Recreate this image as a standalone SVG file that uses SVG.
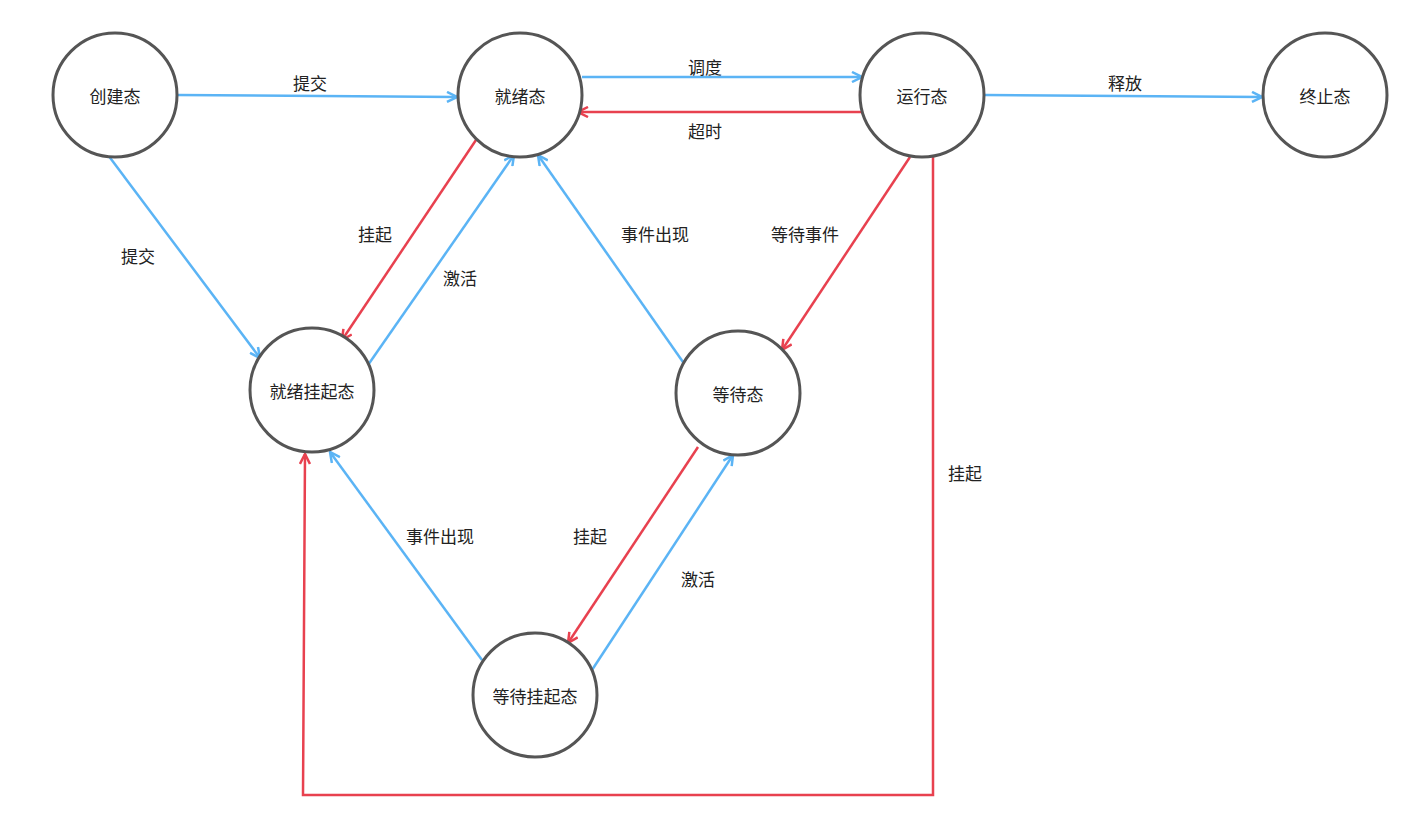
<svg xmlns="http://www.w3.org/2000/svg" width="1428" height="818" viewBox="0 0 1428 818">
<style>
.n{fill:#fff;stroke:#555;stroke-width:3}
.t{font-family:"Noto Sans CJK SC","Liberation Serif",serif;font-size:17px;fill:#222;text-anchor:middle;dominant-baseline:central}
.b{stroke:#5bb4f5;stroke-width:2.5;fill:none;marker-end:url(#ab)}
.r{stroke:#e8414f;stroke-width:2.5;fill:none;marker-end:url(#ar)}
</style>
<defs>
<marker id="ab" viewBox="0 0 12 12" refX="11" refY="6" markerWidth="12" markerHeight="12" markerUnits="userSpaceOnUse" orient="auto"><path d="M1,1 L11,6 L1,11" fill="none" stroke="#5bb4f5" stroke-width="2.5"/></marker>
<marker id="ar" viewBox="0 0 12 12" refX="11" refY="6" markerWidth="12" markerHeight="12" markerUnits="userSpaceOnUse" orient="auto"><path d="M1,1 L11,6 L1,11" fill="none" stroke="#e8414f" stroke-width="2.5"/></marker>
</defs>
<rect width="1428" height="818" fill="#fff"/>
<g id="connectors">
<path class="b" d="M177,95 L457,97"/>
<path class="b" d="M582,77 L862,77"/>
<path class="r" d="M862,112 L578,112"/>
<path class="b" d="M985,95 L1262,97"/>
<path class="b" d="M108,155 L260,358"/>
<path class="r" d="M476,140 L342,340"/>
<path class="b" d="M368,365 L514,155"/>
<path class="b" d="M683,362 L538,155"/>
<path class="r" d="M910,157 L782,350"/>
<path class="r" d="M698,447 L568,643"/>
<path class="b" d="M592,670 L733,455"/>
<path class="b" d="M482,660 L330,452"/>
<path class="r" d="M933,157 L933,795 L303,795 L305,454"/>
<text class="t" x="310" y="82">提交</text>
<text class="t" x="705" y="66">调度</text>
<text class="t" x="705" y="130">超时</text>
<text class="t" x="1125" y="82">释放</text>
<text class="t" x="138" y="255">提交</text>
<text class="t" x="375" y="233">挂起</text>
<text class="t" x="460" y="277">激活</text>
<text class="t" x="655" y="233">事件出现</text>
<text class="t" x="805" y="233">等待事件</text>
<text class="t" x="590" y="535">挂起</text>
<text class="t" x="698" y="578">激活</text>
<text class="t" x="440" y="535">事件出现</text>
<text class="t" x="965" y="472">挂起</text>
</g>
<g id="n1"><circle class="n" cx="115" cy="95" r="62"/><text class="t" x="115" y="95">创建态</text></g>
<g id="n2"><circle class="n" cx="520" cy="95" r="62"/><text class="t" x="520" y="95">就绪态</text></g>
<g id="n3"><circle class="n" cx="922" cy="95" r="62"/><text class="t" x="922" y="95">运行态</text></g>
<g id="n4"><circle class="n" cx="1325" cy="95" r="62"/><text class="t" x="1325" y="95">终止态</text></g>
<g id="n5"><circle class="n" cx="312" cy="390" r="62"/><text class="t" x="312" y="390">就绪挂起态</text></g>
<g id="n6"><circle class="n" cx="738" cy="393" r="62"/><text class="t" x="738" y="393">等待态</text></g>
<g id="n7"><circle class="n" cx="535" cy="695" r="62"/><text class="t" x="535" y="695">等待挂起态</text></g>
</svg>
